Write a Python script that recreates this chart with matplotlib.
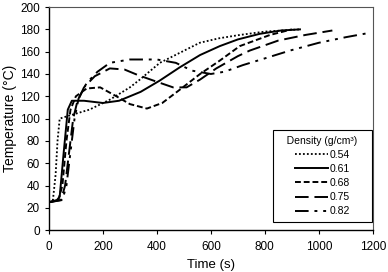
import matplotlib.pyplot as plt

plt.rcParams['font.family'] = ['Liberation Sans', 'DejaVu Sans']

# time (s) / temperature (C)
t_054 = [0, 15, 25, 32, 40, 80, 150, 226, 300, 337, 411, 485, 559, 630, 707, 800, 930]
T_054 = [25, 27, 50, 80, 100, 103, 108, 117, 128, 135, 150, 159, 168, 172, 175, 178, 180]

t_061 = [0, 30, 40, 55, 70, 85, 130, 200, 260, 340, 410, 485, 560, 633, 700, 781, 860, 930]
T_061 = [25, 27, 30, 70, 108, 116, 116, 114, 116, 124, 134, 146, 157, 165, 171, 176, 179, 180]

t_068 = [0, 35, 50, 65, 80, 100, 140, 190, 250, 300, 363, 420, 480, 560, 633, 707, 819, 900]
T_068 = [25, 27, 40, 80, 108, 120, 127, 128, 120, 113, 109, 114, 125, 140, 152, 165, 175, 180]

t_075 = [0, 45, 60, 75, 90, 105, 130, 170, 226, 280, 330, 400, 460, 510, 560, 620, 700, 744, 850, 950, 1050]
T_075 = [25, 27, 40, 70, 100, 115, 128, 138, 145, 144, 139, 133, 128, 128, 135, 145, 156, 161, 170, 175, 179]

t_082 = [0, 50, 65, 80, 95, 110, 140, 180, 226, 300, 400, 470, 530, 600, 650, 719, 800, 893, 1000, 1100, 1190]
T_082 = [25, 27, 40, 70, 100, 118, 132, 142, 150, 153, 153, 150, 143, 140, 142, 148, 154, 161, 168, 173, 177]

labels = ['0.54', '0.61', '0.68', '0.75', '0.82']

fig = plt.figure(figsize=(3.88, 2.72), dpi=100)
ax = fig.add_axes([0.126, 0.154, 0.835, 0.82])

ax.plot(t_054, T_054, color='black', lw=1.3, linestyle=(0, (1, 1.2)), label=labels[0])
ax.plot(t_061, T_061, color='black', lw=1.4, linestyle='-', label=labels[1])
ax.plot(t_068, T_068, color='black', lw=1.4, linestyle=(0, (3, 1.5)), label=labels[2])
ax.plot(t_075, T_075, color='black', lw=1.4, linestyle=(0, (7, 3)), label=labels[3])
ax.plot(t_082, T_082, color='black', lw=1.4, linestyle=(0, (7, 3, 1.5, 3, 1.5, 3)), label=labels[4])

ax.set_xlim(0, 1200)
ax.set_ylim(0, 200)
ax.set_xticks(range(0, 1201, 200))
ax.set_yticks(range(0, 201, 20))
ax.tick_params(labelsize=8.5, direction='out', length=3, width=0.8)
ax.tick_params(axis='x', pad=5)
ax.set_xlabel('Time (s)', fontsize=9.5, labelpad=4)
ax.set_ylabel('Temperature (°C)', fontsize=10, labelpad=2)
for s in ['left', 'bottom']:
    ax.spines[s].set_color('black')
    ax.spines[s].set_linewidth(1.0)
for s in ['top', 'right']:
    ax.spines[s].set_color('#555555')
    ax.spines[s].set_linewidth(0.8)

# spaces around the title widen the box like the original; entries stay centred
leg = ax.legend(title='   Density (g/cm³)   ', loc='lower right',
                bbox_to_anchor=(0.997, 0.036), borderaxespad=0,
                fontsize=7.5, title_fontsize=7.5, handlelength=3.2, handletextpad=0.15,
                labelspacing=0.4, borderpad=0.55, fancybox=False, framealpha=1,
                edgecolor='black')
leg.get_frame().set_linewidth(0.8)

fig.savefig('out.png', dpi=100)
